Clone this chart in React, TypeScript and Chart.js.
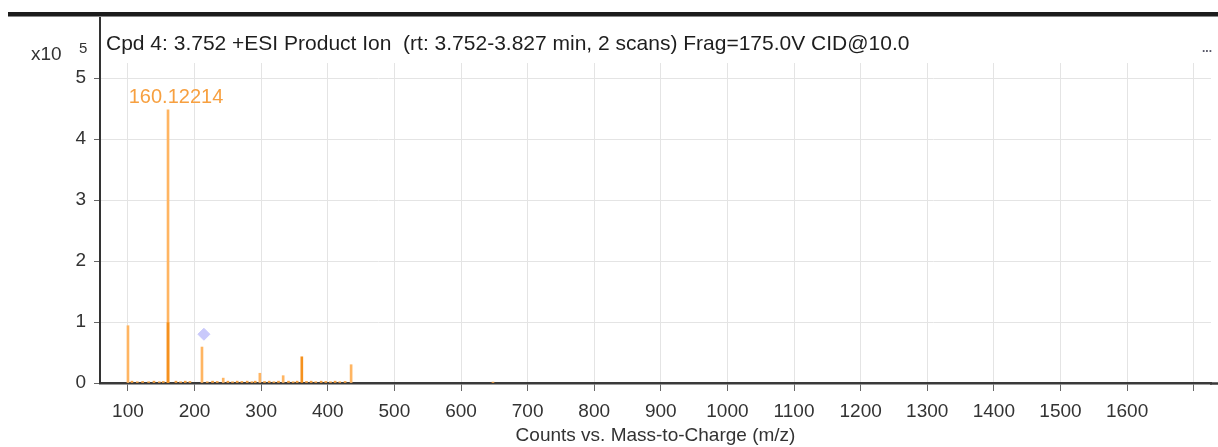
import React, { useEffect, useRef } from 'react';
import { Chart, registerables } from 'chart.js';

Chart.register(...registerables);

// m/z tick labels shown on the x axis
const xTickLabels = [100, 200, 300, 400, 500, 600, 700, 800, 900, 1000, 1100, 1200, 1300, 1400, 1500, 1600];
const yTickLabels = [0, 1, 2, 3, 4, 5];

// Light orange peaks (m/z, counts x10^5)
const lightMz = [100.0, 160.12214, 211.1, 243.0, 298.0, 333.0, 435.0];
const lightInt = [0.94, 4.48, 0.59, 0.08, 0.16, 0.12, 0.3];

// Darker orange peaks
const darkMz = [160.12214, 361.0];
const darkInt = [0.99, 0.43];

// Small baseline noise peaks
const noiseMz = [106, 114, 122, 131, 139, 147, 153, 172, 179, 186, 193, 219, 227, 234, 250, 257, 264, 271, 279, 286, 291, 305, 312, 319, 326, 341, 348, 354, 368, 375, 382, 390, 397, 404, 411, 418, 426, 648];
const noiseInt = [0.03, 0.02, 0.025, 0.02, 0.03, 0.02, 0.025, 0.03, 0.02, 0.03, 0.025, 0.02, 0.03, 0.025, 0.03, 0.02, 0.03, 0.025, 0.03, 0.02, 0.03, 0.025, 0.03, 0.02, 0.03, 0.03, 0.02, 0.03, 0.025, 0.03, 0.02, 0.03, 0.025, 0.02, 0.03, 0.02, 0.025, 0.015];

// Precursor marker
const precursorMz = [214];
const precursorInt = [0.8];

const peakLabel = '160.12214';
const peakLabelMz = 160.12214;
const peakLabelInt = 4.48;

const titleText = 'Cpd 4: 3.752 +ESI Product Ion  (rt: 3.752-3.827 min, 2 scans) Frag=175.0V CID@10.0';
const xAxisTitle = 'Counts vs. Mass-to-Charge (m/z)';

const FONT = '"Liberation Sans", Arial, sans-serif';

const toPoints = (xs: number[], ys: number[]) => xs.map((x, i) => ({ x, y: ys[i] }));

export default function App() {
  const ref = useRef<HTMLCanvasElement | null>(null);

  useEffect(() => {
    if (!ref.current) return;

    const decor = {
      id: 'decor',
      afterDraw(chart: any) {
        const { ctx, chartArea, scales } = chart;
        ctx.save();
        // thick top frame line
        ctx.fillStyle = '#1c1c1c';
        ctx.fillRect(8, 12, 1210, 4);
        ctx.fillStyle = '#888';
        ctx.fillRect(8, 16, 1210, 1);
        // left frame line above plot area
        ctx.strokeStyle = '#333';
        ctx.lineWidth = 2;
        ctx.beginPath();
        ctx.moveTo(chartArea.left, 17);
        ctx.lineTo(chartArea.left, chartArea.top);
        ctx.stroke();
        // x axis line continues to the right edge
        ctx.strokeStyle = '#3a3a3a';
        ctx.lineWidth = 2.5;
        ctx.beginPath();
        ctx.moveTo(chartArea.right - 1, chartArea.bottom + 0.5);
        ctx.lineTo(chart.width, chartArea.bottom + 0.5);
        ctx.stroke();
        // title
        ctx.fillStyle = '#1e1e1e';
        ctx.font = `21px ${FONT}`;
        ctx.textBaseline = 'alphabetic';
        ctx.textAlign = 'left';
        ctx.fillText(titleText, chartArea.left + 6, 50);
        // x10^5
        ctx.fillStyle = '#333';
        ctx.font = `19px ${FONT}`;
        ctx.fillText('x10', 31, 60);
        ctx.font = `15px ${FONT}`;
        ctx.fillText('5', 79, 53);
        // ellipsis
        ctx.fillStyle = '#556';
        ctx.font = `bold 12px ${FONT}`;
        ctx.fillText('...', 1202, 52);
        // peak label
        const px = scales.x.getPixelForValue(peakLabelMz);
        const py = scales.y.getPixelForValue(peakLabelInt);
        ctx.fillStyle = '#f7a040';
        ctx.font = `20px ${FONT}`;
        ctx.textAlign = 'center';
        ctx.fillText(peakLabel, px + 8, py - 7);
        ctx.restore();
      },
    };

    const chart = new Chart(ref.current, {
      type: 'bar',
      data: {
        datasets: [
          { type: 'bar', data: toPoints(noiseMz, noiseInt), backgroundColor: '#f4a040', barThickness: 2, grouped: false, order: 3 } as any,
          { type: 'bar', data: toPoints(lightMz, lightInt), backgroundColor: '#ffb562', barThickness: 2, grouped: false, order: 2 } as any,
          { type: 'bar', data: toPoints(darkMz, darkInt), backgroundColor: '#f5911e', barThickness: 2, grouped: false, order: 1 } as any,
          { type: 'scatter', data: toPoints(precursorMz, precursorInt), backgroundColor: '#c9c9fb', borderColor: '#c9c9fb', pointStyle: 'rectRot', pointRadius: 6, order: 0 } as any,
        ],
      },
      options: {
        animation: false,
        responsive: true,
        maintainAspectRatio: false,
        layout: { padding: { top: 63, left: 0, right: 0, bottom: 0 } },
        plugins: { legend: { display: false }, tooltip: { enabled: false }, title: { display: false } },
        scales: {
          x: {
            type: 'linear', min: 58, max: 1726, offset: false,
            afterFit: (s: any) => { s.height = 64; },
            ticks: {
              stepSize: 100, includeBounds: false, autoSkip: false, maxRotation: 0, padding: 9, color: '#333',
              font: { family: FONT, size: 19 },
              callback: (v: any) => (xTickLabels.includes(Number(v)) ? String(v) : ''),
            },
            grid: { color: '#e4e4e4', tickColor: '#666', tickLength: 8, offset: false },
            border: { color: '#3a3a3a', width: 2.5 },
            title: { display: true, text: xAxisTitle, color: '#333', font: { family: FONT, size: 19 }, padding: { top: 0, bottom: 0 } },
          },
          y: {
            type: 'linear', min: 0, max: 5.25,
            afterFit: (s: any) => { s.width = 100; },
            ticks: {
              stepSize: 1, includeBounds: false, padding: 8, color: '#333', font: { family: FONT, size: 19 },
              callback: (v: any) => (yTickLabels.includes(Number(v)) ? String(v) : ''),
            },
            grid: { color: '#e4e4e4', tickColor: '#666', tickLength: 6 },
            border: { color: '#333', width: 2 },
          },
        },
      },
      plugins: [decor],
    });

    return () => chart.destroy();
  }, []);

  return (
    <div style={{ position: 'fixed', left: 0, top: 0, width: 1218, height: 447, background: '#fff' }}>
      <canvas ref={ref} />
    </div>
  );
}
